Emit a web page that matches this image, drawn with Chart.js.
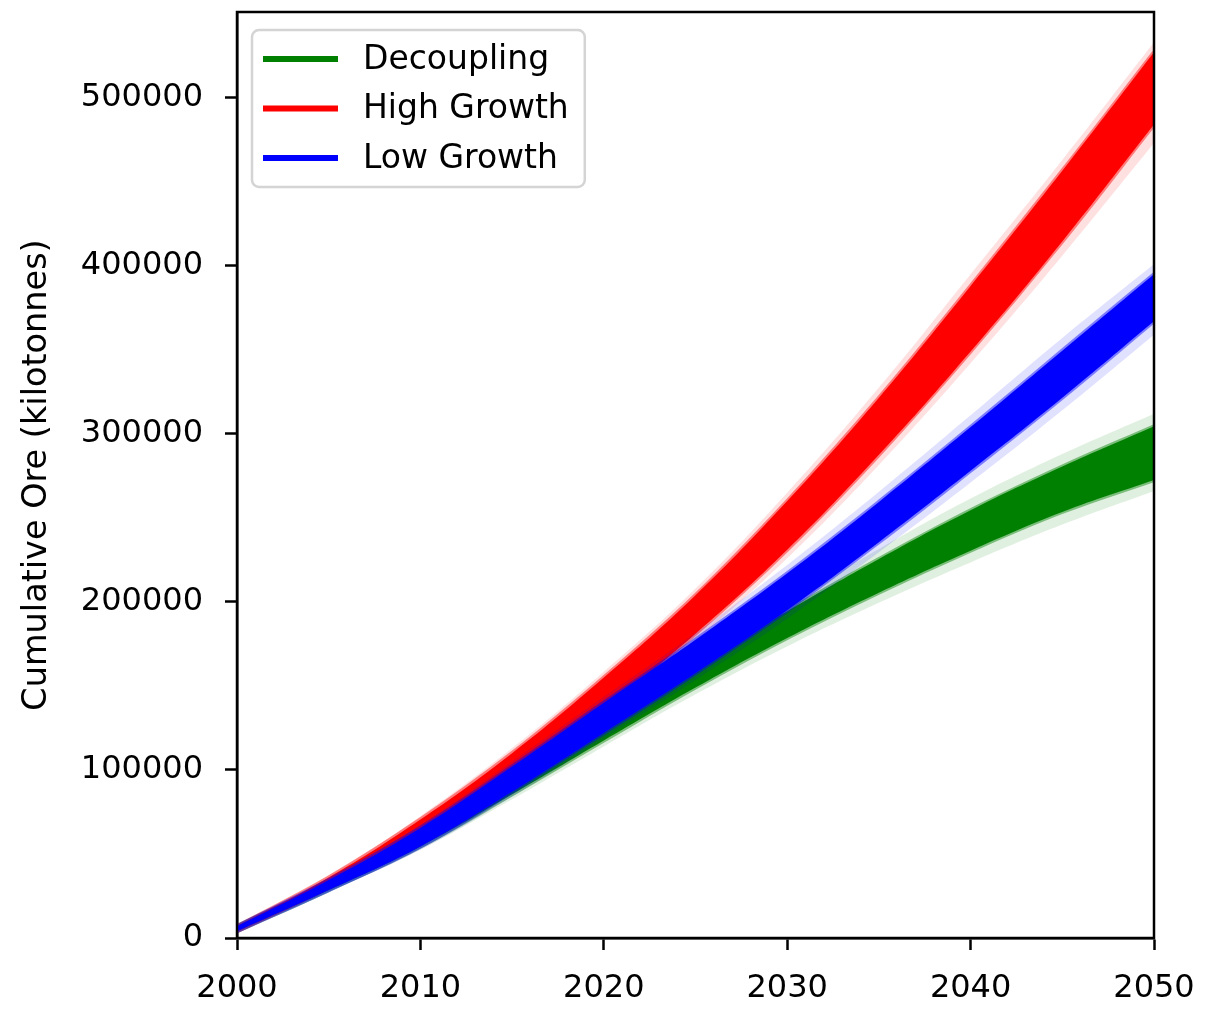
<!DOCTYPE html>
<html>
<head>
<meta charset="utf-8">
<script src="https://cdn.jsdelivr.net/npm/chart.js@4.4.1/dist/chart.umd.min.js"></script>
<style>
html,body{margin:0;padding:0;background:#ffffff;}
#wrap{width:1217px;height:1010px;position:relative;}
</style>
</head>
<body>
<div id="wrap"><canvas id="c" width="1217" height="1010"></canvas></div>
<script>
// ---------- data ----------
const YEARS = [2000, 2005, 2010, 2015, 2020, 2025, 2030, 2035, 2040, 2045, 2050];
const X_TICKS = [2000, 2010, 2020, 2030, 2040, 2050];
const Y_TICKS = [0, 100000, 200000, 300000, 400000, 500000];
const SERIES_NAMES = ['Decoupling', 'High Growth', 'Low Growth'];
const Y_TITLE = 'Cumulative Ore (kilotonnes)';

// Decoupling (green) – dense core and faint outer spread of the runs
const DECOUPLING_LOW        = [4000, 28500, 54500, 85500, 117500, 149000, 178500, 205500, 230500, 253500, 272500];
const DECOUPLING_HIGH       = [7000, 33500, 63500, 96500, 130500, 163000, 194500, 225500, 254500, 280500, 304500];
const DECOUPLING_OUTER_LOW  = [3500, 27500, 52500, 82500, 114000, 145000, 173500, 199500, 223500, 246000, 266000];
const DECOUPLING_OUTER_HIGH = [7500, 34500, 65500, 99500, 134000, 167000, 199500, 231500, 261500, 288000, 312000];

// High Growth (red)
const HIGH_LOW        = [4000, 30000, 59500, 95000, 136000, 181000, 231000, 287500, 349000, 414500, 484000];
const HIGH_HIGH       = [7000, 36000, 70500, 110000, 155000, 204000, 260000, 321500, 388000, 456500, 527000];
const HIGH_OUTER_LOW  = [3500, 29000, 57500, 92000, 132500, 177000, 226000, 281500, 342000, 406000, 473000];
const HIGH_OUTER_HIGH = [7500, 37000, 72500, 113000, 158500, 208000, 265000, 327500, 395000, 463000, 533000];

// Low Growth (blue)
const LOW_LOW        = [4000, 28500, 54500, 87000, 122000, 157500, 195000, 235500, 278000, 321500, 367000];
const LOW_HIGH       = [7000, 34500, 65500, 102000, 140000, 177500, 217000, 259500, 304000, 349500, 395000];
const LOW_OUTER_LOW  = [3500, 27500, 52500, 84000, 118500, 153500, 190000, 229500, 271000, 314000, 359000];
const LOW_OUTER_HIGH = [7500, 35500, 67500, 105000, 143500, 181500, 222000, 265500, 311000, 357000, 401000];

// ---------- styles ----------
const COLORS = ['#008000', '#ff0000', '#0000ff'];
const FONT = "'DejaVu Sans', 'Liberation Sans', sans-serif";
const FS = 32;

function pts(vals) { return YEARS.map((y, i) => ({ x: y, y: vals[i] })); }
function rgba(hex, a) {
  const n = parseInt(hex.slice(1), 16);
  return `rgba(${(n >> 16) & 255},${(n >> 8) & 255},${n & 255},${a})`;
}

// band = two datasets: lower edge, then upper edge filled down to it
function band(name, color, low, high, alphaFill, alphaBorder, borderW, order, legend) {
  return [
    { label: name, data: pts(low), borderColor: rgba(color, alphaBorder), borderWidth: borderW,
      pointRadius: 0, fill: false, tension: 0.4, order: order, _legend: false },
    { label: name, data: pts(high), borderColor: rgba(color, alphaBorder), borderWidth: borderW,
      backgroundColor: rgba(color, alphaFill), pointRadius: 0, fill: '-1',
      tension: 0.4, order: order, _legend: legend, _color: color }
  ];
}

const datasets = [
  ...band(SERIES_NAMES[0], COLORS[0], DECOUPLING_OUTER_LOW, DECOUPLING_OUTER_HIGH, 0.12, 0.0, 0, 5, false),
  ...band(SERIES_NAMES[0], COLORS[0], DECOUPLING_LOW, DECOUPLING_HIGH, 1.0, 0.45, 4, 4, true),
  ...band(SERIES_NAMES[1], COLORS[1], HIGH_OUTER_LOW, HIGH_OUTER_HIGH, 0.12, 0.0, 0, 3, false),
  ...band(SERIES_NAMES[1], COLORS[1], HIGH_LOW, HIGH_HIGH, 1.0, 0.45, 4, 2, true),
  ...band(SERIES_NAMES[2], COLORS[2], LOW_OUTER_LOW, LOW_OUTER_HIGH, 0.12, 0.0, 0, 1, false),
  ...band(SERIES_NAMES[2], COLORS[2], LOW_LOW, LOW_HIGH, 1.0, 0.45, 4, 0, true)
];

// frame around the plot area (matplotlib-style spines)
const framePlugin = {
  id: 'frame',
  afterDatasetsDraw(chart) {
    const { ctx, chartArea: a } = chart;
    ctx.save();
    ctx.strokeStyle = '#000';
    ctx.lineWidth = 2.5;
    ctx.strokeRect(a.left, a.top, a.right - a.left, a.bottom - a.top);
    ctx.restore();
  }
};

// legend inside the axes, upper left
const insideLegend = {
  id: 'insideLegend',
  afterDraw(chart) {
    const { ctx, chartArea: a } = chart;
    const items = chart.data.datasets.filter(d => d._legend);
    ctx.save();
    ctx.font = `33px ${FONT}`;
    const boxX = a.left + 15, boxY = a.top + 18;
    const lineX0 = boxX + 11, lineLen = 75, textX = lineX0 + lineLen + 25;
    const rowH = 49.5, firstY = boxY + 29;
    let maxW = 0;
    items.forEach(d => { maxW = Math.max(maxW, ctx.measureText(d.label).width); });
    const boxW = textX + maxW + 16 - boxX;
    const boxH = rowH * (items.length - 1) + 58;
    const r = 7;
    ctx.beginPath();
    ctx.moveTo(boxX + r, boxY);
    ctx.arcTo(boxX + boxW, boxY, boxX + boxW, boxY + boxH, r);
    ctx.arcTo(boxX + boxW, boxY + boxH, boxX, boxY + boxH, r);
    ctx.arcTo(boxX, boxY + boxH, boxX, boxY, r);
    ctx.arcTo(boxX, boxY, boxX + boxW, boxY, r);
    ctx.closePath();
    ctx.fillStyle = 'rgba(255,255,255,0.8)';
    ctx.fill();
    ctx.strokeStyle = '#d4d4d4';
    ctx.lineWidth = 2.5;
    ctx.stroke();
    ctx.textBaseline = 'middle';
    ctx.textAlign = 'left';
    items.forEach((d, i) => {
      const y = firstY + i * rowH;
      ctx.strokeStyle = d._color;
      ctx.lineWidth = 6;
      ctx.beginPath();
      ctx.moveTo(lineX0, y);
      ctx.lineTo(lineX0 + lineLen, y);
      ctx.stroke();
      ctx.fillStyle = '#000';
      ctx.fillText(d.label, textX, y + 1);
    });
    ctx.restore();
  }
};

Chart.defaults.color = '#000';
Chart.defaults.font.family = FONT;
Chart.defaults.font.size = FS;

new Chart(document.getElementById('c'), {
  type: 'line',
  data: { datasets },
  options: {
    responsive: false,
    devicePixelRatio: 1,
    animation: false,
    layout: { padding: { top: 12, right: 63, left: 0, bottom: 0 } },
    plugins: { legend: { display: false }, tooltip: { enabled: false } },
    scales: {
      x: {
        type: 'linear', min: 2000, max: 2050,
        afterFit: s => { s.height = 72; s.paddingLeft = 0; s.paddingRight = 0; },
        afterBuildTicks: s => { s.ticks = X_TICKS.map(v => ({ value: v })); },
        ticks: { callback: v => String(v), padding: 19, maxRotation: 0, autoSkip: false, includeBounds: false, color: '#000', font: { size: FS } },
        grid: { drawOnChartArea: false, drawTicks: true, tickLength: 12, tickWidth: 2.5, tickColor: '#000' },
        border: { display: true, color: '#000', width: 2.5 }
      },
      y: {
        type: 'linear', min: 0, max: 551000,
        afterFit: s => { s.width = 237; s.paddingTop = 0; s.paddingBottom = 0; },
        afterBuildTicks: s => { s.ticks = Y_TICKS.map(v => ({ value: v })); },
        ticks: { callback: v => String(v), padding: 22, autoSkip: false, includeBounds: false, color: '#000', font: { size: FS } },
        grid: { drawOnChartArea: false, drawTicks: true, tickLength: 12, tickWidth: 2.5, tickColor: '#000' },
        border: { display: true, color: '#000', width: 2.5 },
        title: { display: true, text: Y_TITLE, color: '#000', font: { size: 33.5 }, padding: { top: 17, bottom: 0 } }
      }
    }
  },
  plugins: [framePlugin, insideLegend]
});
</script>
</body>
</html>
